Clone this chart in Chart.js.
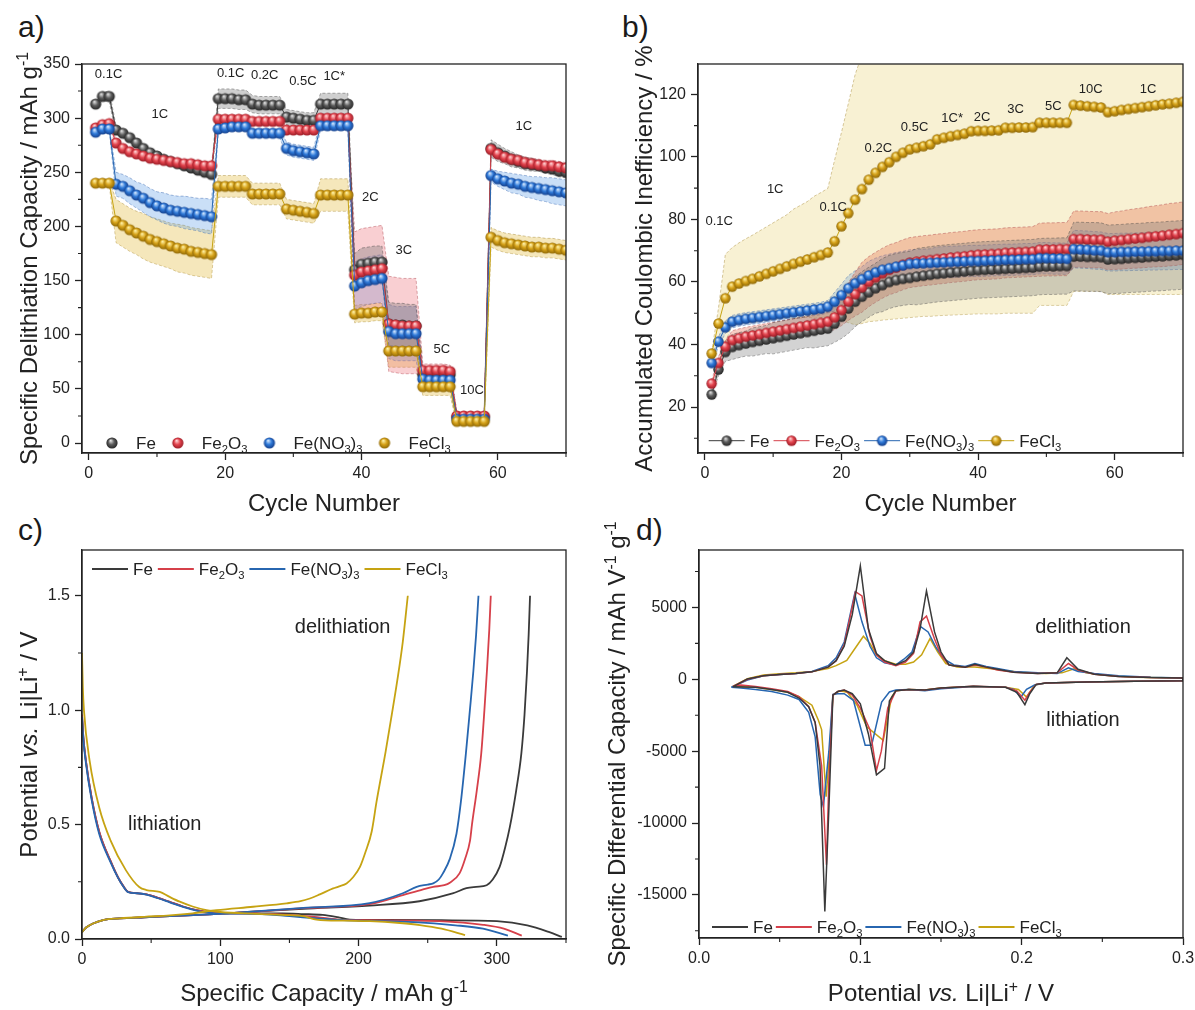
<!DOCTYPE html>
<html>
<head>
<meta charset="utf-8">
<title>Fe additives - rate, inefficiency, profiles, dQ/dV</title>
<script src="https://cdn.jsdelivr.net/npm/chart.js@4.4.1/dist/chart.umd.min.js"></script>
<style>
  html, body { margin: 0; padding: 0; background: #fff; }
  body { width: 1195px; height: 1010px; position: relative; overflow: hidden; font-family: "Liberation Sans", Arial, sans-serif; }
  canvas { position: absolute; }
  .tag { position: absolute; font-size: 30px; line-height: 30px; color: #1a1a1a; }
</style>
</head>
<body>
<div class="tag" style="left:18px;top:12px">a)</div>
<div class="tag" style="left:622px;top:12px">b)</div>
<div class="tag" style="left:18px;top:515px">c)</div>
<div class="tag" style="left:636px;top:515px">d)</div>
<canvas id="rate" width="580" height="476" style="left:0;top:40px"></canvas>
<canvas id="ineff" width="595" height="476" style="left:600px;top:40px"></canvas>
<canvas id="profile" width="580" height="490" style="left:0;top:520px"></canvas>
<canvas id="dqdv" width="595" height="490" style="left:600px;top:520px"></canvas>
<script>
const FAMILY = '"Liberation Sans", Arial, Helvetica, sans-serif';
const INK = '#222';
Chart.defaults.font.family = FAMILY;
Chart.defaults.color = INK;

// series (same order everywhere)
const seriesLabels = ['Fe', 'Fe_{2}O_{3}', 'Fe(NO_{3})_{3}', 'FeCl_{3}'];
const lineColors = ['#3a3a3a', '#d6404a', '#2766b0', '#c6a312'];
const ballColors = [
  ['#e4e4e4', '#5c5c5c', '#262626'],
  ['#ffd8d8', '#e4454f', '#9c1c26'],
  ['#d8eaff', '#2f7ad9', '#143f8c'],
  ['#fff3ab', '#d7a31a', '#8f6806']
];
const bandFillA = ['rgba(110,110,110,0.33)', 'rgba(235,95,105,0.30)', 'rgba(80,150,230,0.30)', 'rgba(225,185,60,0.35)'];
const bandFillB = ['rgba(120,120,120,0.33)', 'rgba(228,100,70,0.33)', 'rgba(90,150,220,0.28)', 'rgba(235,212,120,0.33)'];
const bandEdge = ['rgba(60,60,60,0.6)', 'rgba(160,40,50,0.55)', 'rgba(30,80,160,0.55)', 'rgba(150,115,20,0.55)'];

// ---------- a) specific delithiation capacity, mAh/g ----------
const cycles = Array.from({ length: 70 }, (_, i) => i + 1);
const capFe = [313,320,320, 289,286,282,277,272,268,265,262,260,258,256,254,252,250,248,
  318,318,318,317,317, 313,312,312,312,312, 301,300,299,298,298, 313,313,313,313,313,
  160,165,166,167,167, 110,109,109,108,108, 63,63,63,63,63, 24,24,24,24,24,
  272,268,265,262,260,258,257,256,254,253,251,250];
const capFe2O3 = [291,294,295, 277,272,269,267,265,263,262,261,260,259,258,258,257,256,256,
  299,299,299,299,299, 297,297,297,297,297, 289,289,289,289,289, 300,300,300,300,300,
  155,158,159,160,161, 110,109,108,108,108, 67,67,67,67,66, 25,25,25,25,25,
  271,267,264,262,261,259,258,257,256,256,255,254];
const capFeNO3 = [287,290,290, 239,237,233,229,226,222,219,217,215,214,213,212,211,210,209,
  290,291,292,292,292, 286,286,286,286,286, 272,270,269,268,267, 293,293,293,293,293,
  145,148,150,151,152, 103,101,101,101,101, 59,58,58,58,58, 22,22,22,22,22,
  247,244,242,240,239,237,236,235,234,233,232,231];
const capFeCl3 = [240,240,240, 205,201,197,194,191,188,186,184,182,180,179,177,176,175,174,
  237,237,237,237,237, 230,230,230,230,230, 216,215,214,213,212, 229,229,229,229,229,
  119,120,120,121,121, 85,85,85,85,85, 52,52,52,52,52, 20,20,20,20,20,
  190,187,185,184,183,182,181,181,180,180,179,178];
const capErrFe = [2,4,5, 4,4,4,4,4,4,4,4,4,4,4,4,4,4,4, 9,9,9,9,9, 8,8,8,8,8, 7,7,7,7,7, 10,10,10,10,10,
  15,15,15,15,15, 20,20,20,20,20, 5,5,5,5,5, 4,4,4,4,4, 8,8,7,7,6,6,6,5,5,5,5,5];
const capErrFe2O3 = [2,3,3, 3,3,3,3,3,3,3,3,3,3,3,3,3,3,3, 3,3,3,3,3, 3,3,3,3,3, 3,3,3,3,3, 3,3,3,3,3,
  40,40,40,40,40, 44,44,44,44,44, 6,6,6,6,6, 3,3,3,3,3, 5,5,5,5,5,5,5,5,5,5,5,5];
const capErrFeNO3 = [2,2,2, 11,11,12,12,13,13,13,14,14,14,15,15,15,16,16, 3,3,3,3,3, 4,4,4,4,4, 6,6,6,6,6, 4,4,4,4,4,
  22,22,22,22,22, 25,25,25,25,25, 8,8,8,8,8, 4,4,4,4,4, 6,7,8,9,9,10,10,11,11,12,12,12];
const capErrFeCl3 = [2,2,2, 20,20,20,20,21,21,21,21,21,22,22,22,22,22,22, 10,10,10,10,10, 10,10,10,10,10, 9,9,9,9,9,
  15,15,15,15,15, 8,8,8,8,8, 15,15,15,15,15, 8,8,8,8,8, 3,3,3,3,3, 9,9,9,9,9,9,9,9,9,9,9,9];
const rateNotes = [['0.1C', 2.9, 341], ['1C', 10.4, 304], ['0.1C', 20.8, 342], ['0.2C', 25.8, 340], ['0.5C', 31.4, 334.5],
  ['1C*', 36, 339], ['2C', 41.3, 228], ['3C', 46.2, 179], ['5C', 51.8, 87.4], ['10C', 56.2, 49.6], ['1C', 63.8, 293.6]];

// ---------- b) accumulated coulombic inefficiency, % ----------
const ineffFe = [24,32,37.6, 39.2,39.8,40.3,40.8,41.2,41.6,42,42.4,42.8,43.2,43.6,44,44.4,44.8,45.1,
  46.7,48.9,51.5,53.7,55.3, 56.7,58,59,60,60.6, 61,61.3,61.7,62,62.3, 62.6,62.8,63,63.2,63.4,
  63.6,63.8,63.9,64,64.1, 64.2,64.3,64.4,64.5,64.6, 64.9,65,65,65.1,65.1, 68.1,68.1,68,68,67.9,
  67.2,67.3,67.4,67.6,67.7,67.8,68,68.1,68.2,68.4,68.5,68.7];
const ineffFe2O3 = [27.5,34.1,39.3, 41.4,42,42.5,42.9,43.3,43.7,44.1,44.5,44.9,45.3,45.7,46.1,46.5,46.9,47.3,
  48.7,51,53.7,56.1,58.3, 60.1,61.5,62.8,63.9,64.6, 65.5,66.2,66.5,66.8,67, 67.3,67.5,67.8,68,68.2,
  68.5,68.7,68.8,68.9,69, 69.3,69.4,69.5,69.6,69.7, 70.3,70.4,70.4,70.5,70.5, 73.7,73.7,73.6,73.5,73.5,
  72.9,73.2,73.4,73.7,73.9,74.1,74.4,74.6,74.8,75.1,75.3,75.6];
const ineffFeNO3 = [34.1,40.9,45.5, 47.3,47.8,48.2,48.5,48.8,49.1,49.4,49.7,50,50.3,50.6,50.9,51.2,51.5,52.1,
  53.7,55.8,58,59.6,60.9, 62.1,63.1,63.9,64.4,64.9, 65.3,65.8,65.9,66,66.1, 66.2,66.3,66.4,66.5,66.6,
  66.7,66.7,66.8,66.9,67, 67.1,67.1,67.2,67.3,67.3, 67.6,67.6,67.5,67.5,67.4, 70.5,70.4,70.3,70.1,70,
  69.5,69.5,69.6,69.6,69.7,69.7,69.8,69.8,69.9,69.9,70,70];
const ineffFeCl3 = [37.1,46.7,54.8, 58.5,59.5,60.3,61,61.8,62.6,63.4,64.2,65,65.8,66.5,67.2,67.9,68.6,69.4,
  73,77.8,82,86.3,89.7, 92.7,94.9,96.8,98.3,100, 101.3,102.4,102.9,103.4,104, 105.6,106.1,106.6,107,107.4,
  108.2,108.3,108.3,108.4,108.5, 109.3,109.3,109.4,109.4,109.5, 110.9,110.9,110.9,110.9,110.9, 116.6,116.4,116.2,116,115.8,
  114.3,114.6,115,115.3,115.6,115.9,116.2,116.5,116.8,117,117.3,117.6];
const ineffErrFe = [0.5,2,3, 4,4,4,4.5,4.5,4.5,5,5,5,5,5,5,5.5,5.5,5.5, 6,7,8,8,8, 8,8,8.5,8.5,8.5, 8.5,8.5,9,9,9,
  9,9,9,9,9, 9,9,9,9,9, 9,9,9,9,9, 9,9,9,9,9, 11,11,11,11,11, 11,11,11,11,11,11,11,11,11,11,11,11];
const ineffErrFe2O3 = [1,2,2, 3,3,3,3,3,3,3,3,3,3,3,3,3,3,3, 4,5,6,7,8, 8,8,8,8,8, 8,8,8,8,8, 8,8,8,8,8,
  8,8,8,8,8, 8,8,8,8,8, 8.5,8.5,8.5,8.5,8.5, 9,9,9,9,9, 9,9.2,9.3,9.4,9.5,9.6,9.7,9.8,9.9,10,10,10];
const ineffErrFeNO3 = [1,1.5,2, 2,2,2,2,2,2,2,2,2,2,2,2,2,2,2, 3,3.5,4,4,4, 4.5,4.5,4.5,4.5,4.5, 4.5,4.5,4.5,4.5,4.5,
  5,5,5,5,5, 5,5,5,5,5, 5,5,5,5,5, 5,5,5,5,5, 6,6,6,6,6, 6,6,6,6,6,6,6,6,6,6,6,6];
const ineffErrFeCl3 = [0.5,5,14, 12.5,13,13.5,14,14.5,15,15.5,16,16.5,17.5,18,18.5,19.5,20,20.5,
  26,30,35,40,43, 45.4,47.4,49,50.3,51.8, 52.9,53.8,54.1,54.4,55, 56.4,56.8,57.2,57.5,57.8,
  58.5,58.5,58.5,58.6,58.7, 59.3,59.3,59.4,59.4,59.5, 58.4,58.4,58.4,58.4,58.4, 59.6,59.4,59.2,59,58.8,
  58.3,58.6,59,59.3,59.6,59.9,60.2,60.5,60.8,61,61.3,61.6];
const ineffNotes = [['0.1C', 2.1, 79.7], ['1C', 10.3, 90], ['0.1C', 18.8, 84.3], ['0.2C', 25.4, 103], ['0.5C', 30.7, 109.8],
  ['1C*', 36.2, 112.7], ['2C', 40.6, 113], ['3C', 45.5, 115.4], ['5C', 51, 116.5], ['10C', 56.5, 121.8], ['1C', 64.9, 121.8]];

// ---------- c) voltage profiles [capacity mAh/g, potential V] ----------
const profFeLith = [[0,0.98],[1,0.88],[2.8,0.78],[6.9,0.62],[12.4,0.47],[20.7,0.34],[26,0.27],[30,0.23],[33.3,0.206],[40,0.2],
  [46.6,0.195],[55,0.18],[63.5,0.162],[73,0.142],[82.8,0.126],[94.8,0.115],[110,0.112],[126,0.112],[145,0.112],[160,0.109],
  [174,0.105],[185,0.095],[193.7,0.085],[220,0.083],[260,0.082],[300,0.078],[322,0.06],[338,0.03],[347,0.009]];
const profFe2O3Lith = [[0,0.98],[1,0.88],[2.8,0.78],[6.9,0.62],[12.4,0.47],[20.7,0.34],[26,0.27],[30,0.23],[33.3,0.206],[40,0.2],
  [46.6,0.195],[55,0.18],[63.5,0.162],[73,0.142],[82.8,0.126],[94.8,0.115],[110,0.112],[126,0.111],[150,0.105],[170,0.095],
  [185,0.085],[200,0.082],[240,0.08],[270,0.074],[290,0.062],[305,0.045],[318,0.015]];
const profFeNO3Lith = [[0,0.97],[1,0.87],[2.8,0.77],[6.9,0.61],[12.4,0.46],[20.7,0.335],[26,0.268],[30,0.228],[33.3,0.205],[40,0.2],
  [46.6,0.194],[55,0.178],[63.5,0.16],[73,0.14],[82.8,0.124],[94.8,0.113],[110,0.111],[126,0.11],[150,0.1],[170,0.09],
  [185,0.084],[200,0.08],[240,0.074],[270,0.06],[290,0.045],[308,0.015]];
const profFeCl3Lith = [[0,1.25],[0.6,1.1],[1.4,1.0],[5.5,0.78],[12.4,0.576],[20.7,0.43],[31.8,0.3],[41.4,0.227],[46.6,0.214],
  [56.2,0.206],[63,0.185],[70.7,0.163],[80,0.142],[90,0.126],[100,0.118],[126,0.11],[150,0.104],[160,0.1],[169.6,0.085],
  [190,0.08],[208,0.078],[230,0.07],[244.4,0.061],[260,0.045],[277,0.017]];
const profFeDelith = [[0,0.03],[3,0.05],[8,0.068],[15.2,0.083],[27.3,0.09],[45,0.095],[63.5,0.1],[92.5,0.108],[110,0.114],
  [130,0.122],[160,0.132],[208,0.146],[244,0.165],[268,0.199],[278,0.222],[285,0.228],[292.6,0.235],[297,0.26],[302,0.315],
  [306,0.4],[309.4,0.49],[314,0.65],[317.7,0.81],[320,0.98],[321.8,1.17],[323,1.33],[324,1.5]];
const profFe2O3Delith = [[0,0.03],[3,0.05],[8,0.068],[15.2,0.083],[27.3,0.09],[45,0.095],[63.5,0.1],[92.5,0.108],[110,0.114],
  [130,0.122],[160,0.135],[208,0.152],[232,0.192],[246.7,0.217],[254,0.228],[262,0.235],[266,0.246],[273,0.287],[277,0.35],
  [280.6,0.43],[282,0.5],[285.5,0.65],[288.7,0.81],[291,1.0],[292.8,1.17],[294.5,1.35],[295.6,1.5]];
const profFeNO3Delith = [[0,0.03],[3,0.05],[8,0.068],[15.2,0.083],[27.3,0.09],[45,0.095],[63.5,0.1],[92.5,0.108],[110,0.114],
  [130,0.123],[160,0.136],[208,0.157],[232,0.2],[242,0.228],[250,0.238],[254,0.243],[258,0.26],[261,0.287],[266,0.35],
  [270.8,0.46],[274,0.6],[277.6,0.81],[280.5,1.0],[283,1.17],[285,1.33],[286.7,1.5]];
const profFeCl3Delith = [[0,0.03],[3,0.05],[8,0.068],[15.2,0.083],[27.3,0.09],[45,0.097],[63.5,0.103],[80,0.112],[97.2,0.126],
  [123.7,0.141],[148,0.156],[158,0.165],[164.8,0.177],[172,0.195],[181.6,0.221],[186,0.23],[191.3,0.243],[196,0.27],[201,0.315],
  [205,0.38],[209.5,0.47],[213,0.6],[219.6,0.82],[224,0.98],[228,1.13],[232,1.3],[235.6,1.5]];
const profileNotes = [['delithiation', 188.5, 1.37], ['lithiation', 59.8, 0.506]];

// ---------- d) differential capacity [potential V, mAh/V/g] ----------
const dqFeDelith = [[0.021,-520],[0.03,30],[0.04,250],[0.05,330],[0.06,400],[0.07,520],[0.08,850],[0.085,1300],[0.09,2300],
  [0.095,4500],[0.1,7900],[0.105,3500],[0.11,1800],[0.115,1300],[0.122,1000],[0.128,1300],[0.133,1900],[0.137,3500],[0.141,6150],
  [0.146,3300],[0.15,1900],[0.155,1000],[0.165,850],[0.171,1050],[0.178,850],[0.185,700],[0.195,500],[0.21,400],[0.222,450],
  [0.228,1500],[0.235,700],[0.245,350],[0.26,200],[0.28,120],[0.3,100]];
const dqFeLith = [[0.3,-100],[0.27,-130],[0.24,-180],[0.215,-250],[0.209,-350],[0.205,-1000],[0.202,-1760],[0.197,-900],[0.19,-550],
  [0.17,-480],[0.15,-600],[0.14,-750],[0.13,-700],[0.122,-800],[0.118,-1500],[0.115,-6200],[0.11,-6650],[0.105,-3800],[0.1,-1700],
  [0.095,-1000],[0.09,-750],[0.086,-850],[0.083,-1100],[0.0805,-9000],[0.078,-16150],[0.075,-6000],[0.072,-3000],[0.068,-1900],
  [0.062,-1300],[0.055,-900],[0.045,-700],[0.035,-550],[0.021,-520]];
const dqFe2O3Delith = [[0.021,-500],[0.03,0],[0.04,250],[0.05,330],[0.06,400],[0.07,520],[0.08,850],[0.085,1300],[0.09,2400],
  [0.097,6100],[0.101,5800],[0.106,3000],[0.11,1700],[0.115,1200],[0.122,950],[0.128,1200],[0.133,1800],[0.137,4000],[0.141,4400],
  [0.146,2800],[0.15,1700],[0.155,1000],[0.165,850],[0.171,1000],[0.178,850],[0.185,650],[0.195,500],[0.21,400],[0.222,450],
  [0.229,1100],[0.235,650],[0.245,350],[0.26,200],[0.28,120],[0.3,100]];
const dqFe2O3Lith = [[0.3,-100],[0.27,-130],[0.24,-180],[0.215,-250],[0.209,-350],[0.205,-900],[0.202,-1450],[0.197,-800],[0.19,-550],
  [0.17,-480],[0.15,-600],[0.14,-750],[0.13,-700],[0.122,-800],[0.117,-2000],[0.113,-5000],[0.11,-6350],[0.106,-3500],[0.1,-2000],
  [0.095,-1100],[0.09,-750],[0.086,-850],[0.083,-1100],[0.0805,-7000],[0.079,-12900],[0.076,-6000],[0.072,-3000],[0.068,-1900],
  [0.062,-1200],[0.055,-850],[0.045,-650],[0.035,-500],[0.026,-400],[0.021,-500]];
const dqFeNO3Delith = [[0.02,-550],[0.03,-50],[0.04,250],[0.05,330],[0.06,400],[0.07,550],[0.08,950],[0.085,1500],[0.09,2600],
  [0.0965,5950],[0.101,4000],[0.106,2300],[0.11,1500],[0.115,1150],[0.122,1000],[0.127,1400],[0.132,1900],[0.1372,3680],[0.142,3300],
  [0.147,2200],[0.152,1400],[0.158,1000],[0.165,900],[0.171,1100],[0.178,900],[0.185,750],[0.195,550],[0.21,450],[0.222,400],
  [0.229,800],[0.235,550],[0.245,400],[0.26,250],[0.28,150],[0.3,100]];
const dqFeNO3Lith = [[0.3,-100],[0.27,-130],[0.24,-180],[0.215,-250],[0.208,-400],[0.203,-700],[0.1995,-1230],[0.195,-700],[0.19,-550],
  [0.17,-500],[0.15,-650],[0.14,-800],[0.13,-700],[0.122,-750],[0.118,-880],[0.1132,-1575],[0.107,-4580],[0.103,-4580],[0.0957,-1460],
  [0.09,-1000],[0.086,-1000],[0.083,-1050],[0.0805,-5000],[0.0771,-8870],[0.0751,-8000],[0.072,-4000],[0.068,-2300],[0.062,-1400],
  [0.055,-1100],[0.045,-850],[0.035,-700],[0.026,-600],[0.02,-550]];
const dqFeCl3Delith = [[0.021,-500],[0.03,50],[0.04,300],[0.05,380],[0.06,450],[0.07,550],[0.08,750],[0.085,950],[0.0916,1320],
  [0.097,2200],[0.1019,3000],[0.106,2500],[0.11,1700],[0.115,1300],[0.122,1050],[0.128,1050],[0.133,1200],[0.138,1700],[0.1432,2830],
  [0.148,1900],[0.153,1100],[0.16,850],[0.171,850],[0.18,750],[0.19,600],[0.2,500],[0.215,400],[0.225,450],[0.2325,740],
  [0.24,450],[0.25,300],[0.27,150],[0.3,100]];
const dqFeCl3Lith = [[0.3,-100],[0.27,-130],[0.24,-180],[0.215,-250],[0.208,-400],[0.203,-1230],[0.198,-700],[0.19,-550],[0.17,-500],
  [0.15,-600],[0.14,-750],[0.13,-700],[0.122,-800],[0.1194,-1230],[0.1142,-4240],[0.104,-3310],[0.098,-1800],[0.092,-900],[0.087,-800],
  [0.083,-1100],[0.081,-5000],[0.0788,-8170],[0.076,-3500],[0.074,-2850],[0.07,-1800],[0.062,-1200],[0.055,-900],[0.045,-700],
  [0.035,-550],[0.021,-500]];
const dqdvNotes = [['delithiation', 0.238, 3680], ['lithiation', 0.238, -2780]];

// ---------- helpers ----------
function parseRich(s) {
  // _{..} subscript, ^{..} superscript, ~..~ italic
  const segs = []; let buf = '', it = false, i = 0;
  while (i < s.length) {
    const c = s[i];
    if ((c === '_' || c === '^') && s[i + 1] === '{') {
      if (buf) segs.push({ t: buf, k: 'n', it }); buf = '';
      const j = s.indexOf('}', i);
      segs.push({ t: s.slice(i + 2, j), k: c === '_' ? 'sub' : 'sup', it });
      i = j + 1; continue;
    }
    if (c === '~') { if (buf) segs.push({ t: buf, k: 'n', it }); buf = ''; it = !it; i++; continue; }
    buf += c; i++;
  }
  if (buf) segs.push({ t: buf, k: 'n', it });
  return segs;
}

function drawRich(ctx, str, x, y, size, align) {
  const parts = parseRich(str).map(s => {
    const sz = s.k === 'n' ? size : size * 0.66;
    const font = (s.it ? 'italic ' : '') + sz + 'px ' + FAMILY;
    ctx.font = font;
    const dy = s.k === 'sub' ? size * 0.24 : s.k === 'sup' ? -size * 0.38 : 0;
    return { t: s.t, font, dy, w: ctx.measureText(s.t).width };
  });
  const total = parts.reduce((a, p) => a + p.w, 0);
  let cx = align === 'center' ? x - total / 2 : x;
  const base = y + size * 0.35;
  ctx.fillStyle = INK; ctx.textAlign = 'left'; ctx.textBaseline = 'alphabetic';
  parts.forEach(p => { ctx.font = p.font; ctx.fillText(p.t, cx, base + p.dy); cx += p.w; });
  return total;
}

function ball(r, [light, base, dark]) {
  const s = Math.ceil(r * 2) + 2, c = document.createElement('canvas');
  c.width = c.height = s;
  const g = c.getContext('2d'), m = s / 2;
  const grad = g.createRadialGradient(m - r * 0.25, m - r * 0.45, r * 0.05, m, m, r);
  grad.addColorStop(0, light); grad.addColorStop(0.5, base); grad.addColorStop(1, dark);
  g.fillStyle = grad; g.beginPath(); g.arc(m, m, r, 0, Math.PI * 2); g.fill();
  return c;
}
const ballsA = ballColors.map(c => ball(5.6, c));
const ballsB = ballColors.map(c => ball(5.2, c));

function drawLegend(ctx, L) {
  let x = L.x;
  seriesLabels.forEach((label, i) => {
    let tx;
    if (L.kind === 'line') {
      ctx.strokeStyle = lineColors[i]; ctx.lineWidth = 1.8;
      ctx.beginPath(); ctx.moveTo(x, L.y); ctx.lineTo(x + L.len, L.y); ctx.stroke();
      tx = x + L.len + L.textGap;
    } else {
      if (L.kind === 'lineBall') {
        ctx.strokeStyle = lineColors[i]; ctx.lineWidth = 1;
        ctx.beginPath(); ctx.moveTo(x - L.len / 2, L.y); ctx.lineTo(x + L.len / 2, L.y); ctx.stroke();
      }
      const b = L.sprites[i];
      ctx.drawImage(b, x - b.width / 2, L.y - b.height / 2);
      tx = x + L.textGap;
    }
    const w = drawRich(ctx, label, tx, L.y, L.size, 'left');
    x = tx + w + L.itemGap;
  });
}

function decorations(cfg) {
  return {
    id: 'decorations',
    afterDraw(chart) {
      const ctx = chart.ctx, a = chart.chartArea, xs = chart.scales.x, ys = chart.scales.y;
      ctx.save();
      ctx.strokeStyle = INK; ctx.lineWidth = 1.3;
      ctx.strokeRect(a.left, a.top, a.right - a.left, a.bottom - a.top);
      ctx.lineWidth = 1.1; ctx.beginPath();
      cfg.minorX.forEach(v => { const p = xs.getPixelForValue(v); ctx.moveTo(p, a.bottom); ctx.lineTo(p, a.bottom + 4); });
      cfg.minorY.forEach(v => { const p = ys.getPixelForValue(v); ctx.moveTo(a.left, p); ctx.lineTo(a.left - 4, p); });
      ctx.stroke();
      drawRich(ctx, cfg.xTitle, (a.left + a.right) / 2, cfg.xTitleY, 24, 'center');
      ctx.save();
      ctx.translate(cfg.yTitleX, (a.top + a.bottom) / 2);
      ctx.rotate(-Math.PI / 2);
      drawRich(ctx, cfg.yTitle, 0, 0, 24, 'center');
      ctx.restore();
      cfg.notes.forEach(([t, x, y]) => drawRich(ctx, t, xs.getPixelForValue(x), ys.getPixelForValue(y), cfg.noteSize, 'center'));
      drawLegend(ctx, cfg.legend);
      ctx.restore();
    }
  };
}

function axis(o) {
  const vertical = o.position === 'left';
  return {
    type: 'linear', position: o.position, min: o.min, max: o.max,
    afterBuildTicks: s => { s.ticks = o.majors.map(v => ({ value: v })); },
    afterFit: s => {
      if (vertical) s.width = o.size; else s.height = o.size;
      s.paddingLeft = s.paddingRight = s.paddingTop = s.paddingBottom = 0;
    },
    ticks: {
      font: { size: 16 }, color: INK, padding: vertical ? 5 : 4, maxRotation: 0, autoSkip: false,
      callback: v => o.digits == null ? String(v) : Number(v).toFixed(o.digits)
    },
    grid: { display: true, drawOnChartArea: false, drawTicks: true, tickLength: 7, tickWidth: 1.3, tickColor: INK, color: INK },
    border: { display: true, color: INK, width: 1.3 },
    title: { display: false }
  };
}

function pts(xs, ys) { return xs.map((x, i) => ({ x, y: ys[i] })); }
function pairs(list) { return list.map(([x, y]) => ({ x, y })); }

function bandSets(mean, err, fill, edge, order) {
  const base = { showLine: true, pointRadius: 0, borderWidth: 0.7, borderColor: edge, borderDash: [3, 2], order };
  return [
    { ...base, data: pts(cycles, mean.map((m, i) => m + err[i])), fill: '+1', backgroundColor: fill },
    { ...base, data: pts(cycles, mean.map((m, i) => m - err[i])), fill: false }
  ];
}

function cycleSets(means, errs, fills, sprites) {
  const sets = [];
  means.forEach((m, i) => sets.push(...bandSets(m, errs[i], fills[i], bandEdge[i], 10 + i)));
  means.forEach((m, i) => sets.push({
    data: pts(cycles, m), showLine: true, borderColor: lineColors[i], borderWidth: 1,
    pointStyle: sprites[i], pointRadius: 5, order: 3 - i
  }));
  return sets;
}

const baseOptions = (padding, scales) => ({
  responsive: false, animation: false, events: [],
  layout: { padding },
  plugins: { legend: { display: false }, tooltip: { enabled: false } },
  scales
});

// ---------- a) ----------
new Chart(document.getElementById('rate'), {
  type: 'scatter',
  data: { datasets: cycleSets([capFe, capFe2O3, capFeNO3, capFeCl3], [capErrFe, capErrFe2O3, capErrFeNO3, capErrFeCl3], bandFillA, ballsA) },
  options: baseOptions({ top: 24, right: 14, bottom: 0, left: 0 }, {
    x: axis({ position: 'bottom', min: -1, max: 70, majors: [0, 20, 40, 60], size: 63 }),
    y: axis({ position: 'left', min: -9.2, max: 350, majors: [0, 50, 100, 150, 200, 250, 300, 350], size: 82 })
  }),
  plugins: [decorations({
    xTitle: 'Cycle Number', xTitleY: 463, yTitle: 'Specific Delithiation Capacity / mAh g^{-1}', yTitleX: 28.7,
    minorX: [10, 30, 50, 70], minorY: [25, 75, 125, 175, 225, 275, 325],
    notes: rateNotes, noteSize: 13,
    legend: { kind: 'ball', x: 112, y: 403, sprites: ballsA, textGap: 24, itemGap: 22, size: 17 }
  })]
});

// ---------- b) ----------
new Chart(document.getElementById('ineff'), {
  type: 'scatter',
  data: { datasets: cycleSets([ineffFe, ineffFe2O3, ineffFeNO3, ineffFeCl3], [ineffErrFe, ineffErrFe2O3, ineffErrFeNO3, ineffErrFeCl3], bandFillB, ballsB) },
  options: baseOptions({ top: 24, right: 12, bottom: 0, left: 0 }, {
    x: axis({ position: 'bottom', min: -1, max: 70, majors: [0, 20, 40, 60], size: 63 }),
    y: axis({ position: 'left', min: 5.3, max: 129.7, majors: [20, 40, 60, 80, 100, 120], size: 98 })
  }),
  plugins: [decorations({
    xTitle: 'Cycle Number', xTitleY: 463, yTitle: 'Accumulated Coulombic Inefficiency / %', yTitleX: 43.6,
    minorX: [10, 30, 50, 70], minorY: [10, 30, 50, 70, 90, 110],
    notes: ineffNotes, noteSize: 13,
    legend: { kind: 'lineBall', x: 126.7, y: 400.7, len: 36, sprites: ballsB, textGap: 23, itemGap: 22, size: 17 }
  })]
});

// ---------- c) ----------
const profLith = [profFeLith, profFe2O3Lith, profFeNO3Lith, profFeCl3Lith];
const profDelith = [profFeDelith, profFe2O3Delith, profFeNO3Delith, profFeCl3Delith];
const profileSets = [];
lineColors.forEach((c, i) => {
  [profLith[i], profDelith[i]].forEach(curve => profileSets.push({
    data: pairs(curve), showLine: true, borderColor: c, borderWidth: 1.8, pointRadius: 0,
    cubicInterpolationMode: 'monotone', order: 3 - i
  }));
});
new Chart(document.getElementById('profile'), {
  type: 'scatter',
  data: { datasets: profileSets },
  options: baseOptions({ top: 30, right: 14, bottom: 0, left: 0 }, {
    x: axis({ position: 'bottom', min: 0, max: 350, majors: [0, 100, 200, 300], size: 71 }),
    y: axis({ position: 'left', min: 0, max: 1.7, majors: [0, 0.5, 1, 1.5], digits: 1, size: 82 })
  }),
  plugins: [decorations({
    xTitle: 'Specific Capacity / mAh g^{-1}', xTitleY: 473, yTitle: 'Potential ~vs.~ Li|Li^{+} / V', yTitleX: 28.7,
    minorX: [50, 150, 250, 350], minorY: [0.25, 0.75, 1.25],
    notes: profileNotes, noteSize: 20,
    legend: { kind: 'line', x: 92, y: 49, len: 36, textGap: 5, itemGap: 5, size: 17 }
  })]
});

// ---------- d) ----------
const dqDelith = [dqFeDelith, dqFe2O3Delith, dqFeNO3Delith, dqFeCl3Delith];
const dqLith = [dqFeLith, dqFe2O3Lith, dqFeNO3Lith, dqFeCl3Lith];
new Chart(document.getElementById('dqdv'), {
  type: 'scatter',
  data: {
    datasets: lineColors.map((c, i) => ({
      data: pairs(dqDelith[i].concat(dqLith[i])), showLine: true, borderColor: c, borderWidth: 1.5,
      pointRadius: 0, tension: 0, order: i
    }))
  },
  options: baseOptions({ top: 30, right: 12, bottom: 0, left: 0 }, {
    x: axis({ position: 'bottom', min: 0, max: 0.3, majors: [0, 0.1, 0.2, 0.3], digits: 1, size: 72 }),
    y: axis({ position: 'left', min: -18000, max: 9000, majors: [-15000, -10000, -5000, 0, 5000], size: 99 })
  }),
  plugins: [decorations({
    xTitle: 'Potential ~vs.~ Li|Li^{+} / V', xTitleY: 473, yTitle: 'Specific Differential Capacity / mAh V^{-1} g^{-1}', yTitleX: 17,
    minorX: [0.05, 0.15, 0.25], minorY: [-17500, -12500, -7500, -2500, 2500, 7500],
    notes: dqdvNotes, noteSize: 20,
    legend: { kind: 'line', x: 112, y: 407, len: 36, textGap: 5, itemGap: 3, size: 17 }
  })]
});
</script>
</body>
</html>
